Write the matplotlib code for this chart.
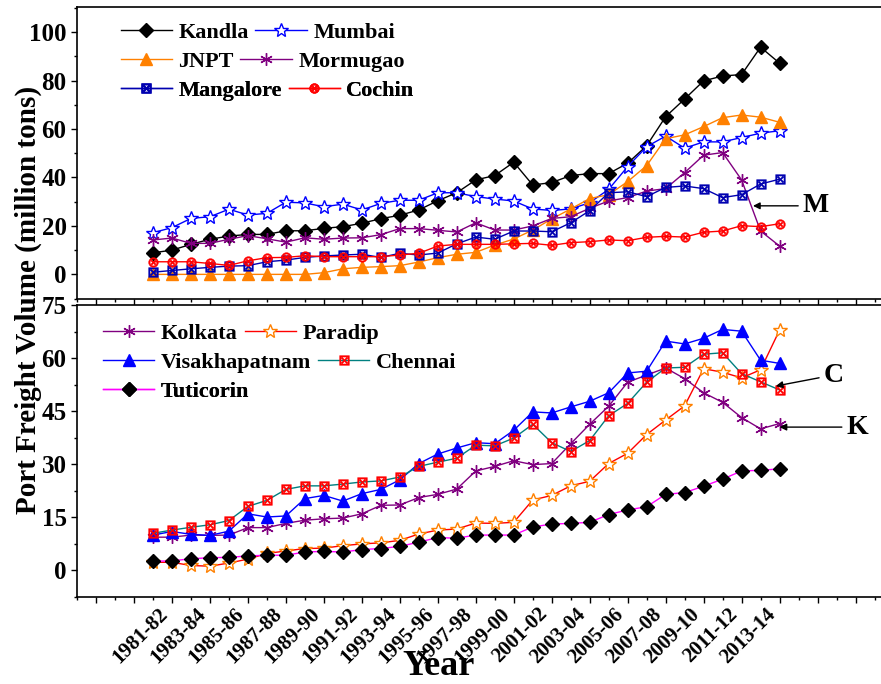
import numpy as np
import matplotlib

matplotlib.use("Agg")
import matplotlib.pyplot as plt

plt.rcParams["font.family"] = "Liberation Serif"
plt.rcParams["font.weight"] = "bold"

years = [f"{y}-{(y + 1) % 100:02d}" for y in range(1980, 2014)]

# west coast ports (million tons)
kandla = [8.9, 10.0, 12.4, 14.5, 15.8, 16.5, 16.5, 18.0, 18.0, 19.0, 19.7, 21.1,
          23.0, 24.4, 26.6, 30.4, 33.7, 39.0, 40.8, 46.3, 36.9, 37.9, 40.8, 41.6,
          41.6, 45.9, 53.1, 65.1, 72.4, 79.9, 81.9, 82.5, 93.8, 87.2]
mumbai = [17.2, 19.3, 23.1, 23.8, 26.9, 24.5, 25.2, 29.8, 29.5, 27.9, 29.0, 26.6,
          29.3, 30.6, 30.6, 33.7, 33.7, 32.1, 31.1, 30.3, 27.0, 26.4, 27.0, 29.6,
          35.1, 44.5, 52.7, 57.1, 52.1, 54.7, 54.7, 56.5, 58.3, 59.3]
jnpt = [0.0, 0.0, 0.0, 0.0, 0.0, 0.0, 0.0, 0.0, 0.0, 0.7, 2.3, 2.9,
        3.2, 3.6, 5.1, 6.9, 8.3, 9.1, 12.1, 14.6, 18.3, 22.9, 27.0, 31.3,
        32.9, 38.3, 44.9, 56.0, 57.6, 61.0, 64.7, 65.8, 64.9, 62.8]
mormugao = [14.2, 15.0, 12.8, 12.8, 14.5, 16.0, 14.7, 13.3, 15.1, 14.5, 15.0, 15.1,
            16.4, 18.9, 18.9, 18.2, 17.5, 21.3, 18.3, 18.3, 20.0, 23.1, 23.8, 27.3,
            30.3, 31.7, 34.4, 35.4, 42.0, 49.2, 50.3, 39.0, 17.9, 11.7]
mangalore = [0.9, 1.6, 2.3, 2.9, 3.4, 3.6, 5.2, 5.9, 7.0, 7.6, 8.0, 8.3,
             7.0, 8.7, 8.0, 8.8, 12.6, 15.4, 14.5, 17.9, 17.9, 17.6, 21.3, 26.3,
             33.7, 34.1, 32.1, 35.9, 36.5, 35.4, 31.7, 32.9, 37.3, 39.3]
cochin = [5.2, 5.2, 5.2, 4.5, 3.7, 5.6, 6.9, 7.0, 7.7, 7.3, 7.3, 7.3,
          7.3, 8.0, 8.7, 11.7, 12.4, 12.4, 12.4, 12.6, 12.8, 12.0, 13.1, 13.5,
          14.2, 13.9, 15.3, 15.7, 15.4, 17.4, 17.9, 20.1, 19.7, 20.9]

# east coast ports (million tons)
kolkata = [9.4, 9.4, 10.0, 9.9, 10.0, 12.1, 12.1, 13.3, 14.2, 14.6, 14.8, 16.0,
           18.4, 18.5, 20.6, 21.5, 23.0, 28.1, 29.4, 31.0, 29.9, 30.2, 35.8, 41.3,
           46.4, 53.2, 55.2, 57.2, 54.2, 50.2, 47.5, 43.2, 40.0, 41.5]
paradip = [2.3, 2.3, 1.4, 1.2, 2.1, 3.2, 4.8, 5.5, 6.2, 6.3, 7.0, 7.5,
           7.8, 8.5, 10.3, 11.4, 11.7, 13.4, 13.3, 13.6, 19.9, 21.2, 23.9, 25.2,
           30.2, 33.1, 38.4, 42.5, 46.5, 57.0, 56.0, 54.4, 56.7, 67.9]
visakhapatnam = [10.0, 11.0, 10.2, 9.9, 11.1, 16.0, 15.1, 15.4, 20.3, 21.2, 19.6, 21.7,
                 22.9, 25.6, 30.2, 32.9, 34.6, 36.1, 35.8, 39.6, 44.8, 44.5, 46.2, 47.8,
                 50.2, 55.8, 56.3, 64.8, 64.0, 65.6, 68.1, 67.6, 59.4, 58.5]
chennai = [10.5, 11.4, 12.2, 12.9, 14.1, 18.1, 19.8, 22.9, 23.9, 23.9, 24.4, 25.0,
           25.3, 26.4, 29.4, 30.6, 31.7, 35.4, 35.2, 37.4, 41.3, 36.1, 33.6, 36.7,
           43.7, 47.2, 53.2, 57.2, 57.4, 61.1, 61.5, 55.6, 53.3, 51.0]
tuticorin = [2.6, 2.7, 3.3, 3.6, 3.7, 4.1, 4.3, 4.3, 5.2, 5.4, 5.2, 5.9,
             6.2, 6.8, 8.0, 9.3, 9.1, 10.0, 10.0, 10.0, 12.3, 13.1, 13.3, 13.6,
             15.8, 17.1, 18.0, 21.5, 22.0, 23.8, 25.8, 28.1, 28.3, 28.7]

x = np.arange(len(years))

fig = plt.figure(figsize=(8.81, 6.84), dpi=100)
ax_top = fig.add_axes([0.0874, 0.5624, 0.916, 0.4274])
ax_bot = fig.add_axes([0.0874, 0.1272, 0.916, 0.4269])


def series(ax, vals, label, color, marker, ms, mfc=None, mec=None, mew=1.0):
    line, = ax.plot(x, vals, color=color, lw=1.0, marker=marker, ms=ms,
                    mfc=mfc if mfc else color, mec=mec if mec else color,
                    mew=mew, label=label)
    return line


h_kan = series(ax_top, kandla, "Kandla", "black", "D", 7)
h_mum = series(ax_top, mumbai, "Mumbai", "#0000ff", "*", 10, mfc="white")
h_jnp = series(ax_top, jnpt, "JNPT", "#ff8000", "^", 8)
h_mor = series(ax_top, mormugao, "Mormugao", "#800080", (6, 2, 0), 9)
h_man = series(ax_top, mangalore, "Mangalore", "#0000b0", r"$\boxtimes$", 7, mew=0.3)
h_coc = series(ax_top, cochin, "Cochin", "#ff0000", r"$\otimes$", 7, mew=0.3)

h_kol = series(ax_bot, kolkata, "Kolkata", "#800080", (6, 2, 0), 9)
h_par = series(ax_bot, paradip, "Paradip", "#ff0000", "*", 10, mfc="white", mec="#ff8000")
h_vis = series(ax_bot, visakhapatnam, "Visakhapatnam", "#0000ff", "^", 8)
h_che = series(ax_bot, chennai, "Chennai", "#008080", r"$\boxtimes$", 7,
               mfc="#ff0000", mec="#ff0000", mew=0.3)
h_tut = series(ax_bot, tuticorin, "Tuticorin", "#ff00ff", "D", 7, mfc="black", mec="black")


def legend_row(ax, handles, xa, ya):
    leg = ax.legend(handles=handles, ncol=2, loc="center left", bbox_to_anchor=(xa, ya),
                    frameon=False, fontsize=16, handlelength=2.3, handletextpad=0.3,
                    columnspacing=0.3, borderpad=0, borderaxespad=0, numpoints=1)
    ax.add_artist(leg)


legend_row(ax_top, [h_kan, h_mum], 0.054, 0.913)
legend_row(ax_top, [h_jnp, h_mor], 0.054, 0.813)
legend_row(ax_top, [h_man, h_coc], 0.054, 0.713)
legend_row(ax_bot, [h_kol, h_par], 0.0326, 0.903)
legend_row(ax_bot, [h_vis, h_che], 0.0326, 0.802)
legend_row(ax_bot, [h_tut], 0.0326, 0.703)

major_x = np.arange(-3, 38, 2)
for ax in (ax_top, ax_bot):
    ax.set_xlim(-4, 38.5)
    ax.set_xticks(major_x)
    ax.set_xticks(np.arange(-4, 39, 2), minor=True)
    ax.tick_params(axis="both", which="major", direction="out", length=4, width=1, labelsize=18)
    ax.tick_params(axis="both", which="minor", direction="out", length=2.2, width=1)
    for s in ax.spines.values():
        s.set_linewidth(1.2)

ax_top.set_xticklabels([])
ax_bot.set_xticklabels([years[i] if 0 <= i < len(years) else "" for i in major_x],
                       rotation=45, ha="right", rotation_mode="default", fontsize=15)
ax_bot.tick_params(axis="x", which="major", pad=1)

ax_top.set_ylim(-10.3, 110.4)
ax_top.set_yticks(np.arange(0, 101, 20))
ax_top.set_yticks(np.arange(-10, 111, 10), minor=True)
ax_bot.set_ylim(-5.1, 75)
ax_bot.set_yticks(np.arange(0, 76, 15))
ax_bot.set_yticks(np.arange(-7.5, 76, 7.5), minor=True)

arrow = dict(arrowstyle="-|>", color="black", lw=1.0, mutation_scale=10, shrinkA=1, shrinkB=0)
ax_top.annotate("M", xy=(31.6, 28.3), xytext=(34.2, 28.3), ha="left", va="center",
                fontsize=20, arrowprops=arrow)
ax_bot.annotate("C", xy=(32.8, 52.1), xytext=(35.3, 55.2), ha="left", va="center",
                fontsize=20, arrowprops=arrow)
ax_bot.annotate("K", xy=(33.0, 40.5), xytext=(36.5, 40.5), ha="left", va="center",
                fontsize=20, arrowprops=arrow)

fig.text(0.032, 0.561, "Port Freight Volume (million tons)", rotation=90,
         ha="center", va="center", fontsize=21)
fig.text(0.498, 0.0125, "Year", ha="center", va="baseline", fontsize=26)

fig.savefig("out.png", dpi=100)
